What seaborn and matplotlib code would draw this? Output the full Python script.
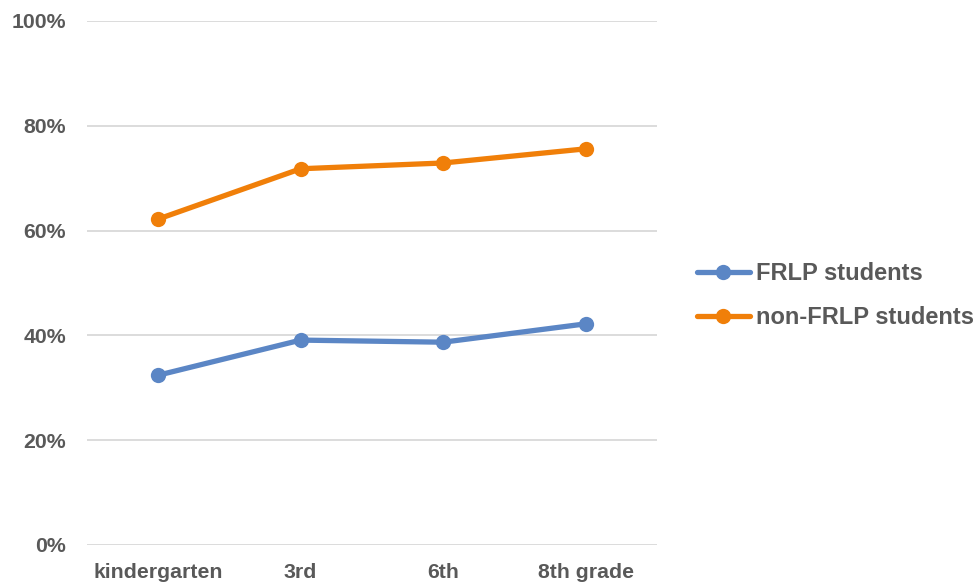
import matplotlib
matplotlib.use("Agg")
import matplotlib.pyplot as plt
import seaborn as sns
import pandas as pd

grades = ["kindergarten", "3rd", "6th", "8th grade"]
frlp = [32.4, 39.1, 38.7, 42.2]
non_frlp = [62.2, 71.8, 72.9, 75.6]
series_names = ["FRLP students", "non-FRLP students"]
colors = ["#5B86C5", "#F07F09"]

df = pd.DataFrame({
    "grade": grades * 2,
    "value": frlp + non_frlp,
    "series": [series_names[0]] * 4 + [series_names[1]] * 4,
})
df["x"] = df["grade"].map({g: i for i, g in enumerate(grades)})

sns.set_style("white")
plt.rcParams["font.family"] = ["Liberation Sans", "DejaVu Sans"]

fs = 15.3
fig = plt.figure(figsize=(9.76, 5.83), dpi=100)
ax = fig.add_axes([0.0891, 0.0652, 0.673 - 0.0891, 0.964 - 0.0652])

sns.lineplot(data=df, x="x", y="value", hue="series", palette=colors,
             marker="o", markersize=11, markeredgewidth=0, linewidth=3.8,
             ax=ax, legend=True)

ax.set_xlim(-0.5, 3.5)
ax.set_ylim(0, 100)
ax.set_yticks([0, 20, 40, 60, 80, 100])
ax.set_yticklabels([f"{v}%" for v in [0, 20, 40, 60, 80, 100]])
ax.set_xticks(range(len(grades)))
ax.set_xticklabels(grades)
ax.set_xlabel("")
ax.set_ylabel("")
ax.yaxis.grid(True, color="#D9D9D9", linewidth=1.3)
ax.xaxis.grid(False)
for s in ax.spines.values():
    s.set_visible(False)
ax.tick_params(axis="both", length=0, labelsize=fs, colors="#595959")
ax.tick_params(axis="y", pad=15)
ax.tick_params(axis="x", pad=13)
for lbl in ax.get_xticklabels() + ax.get_yticklabels():
    lbl.set_fontweight("bold")

handles, labels = ax.get_legend_handles_labels()
ax.get_legend().remove()
leg = fig.legend(handles, labels, loc="center left", bbox_to_anchor=(0.714, 0.4925),
                 frameon=False, fontsize=17, handlelength=2.25, handletextpad=0.25,
                 labelspacing=0.9, borderpad=0, borderaxespad=0)
for t in leg.get_texts():
    t.set_color("#595959")
    t.set_fontweight("bold")

fig.savefig("out.png", dpi=100, facecolor="white")
